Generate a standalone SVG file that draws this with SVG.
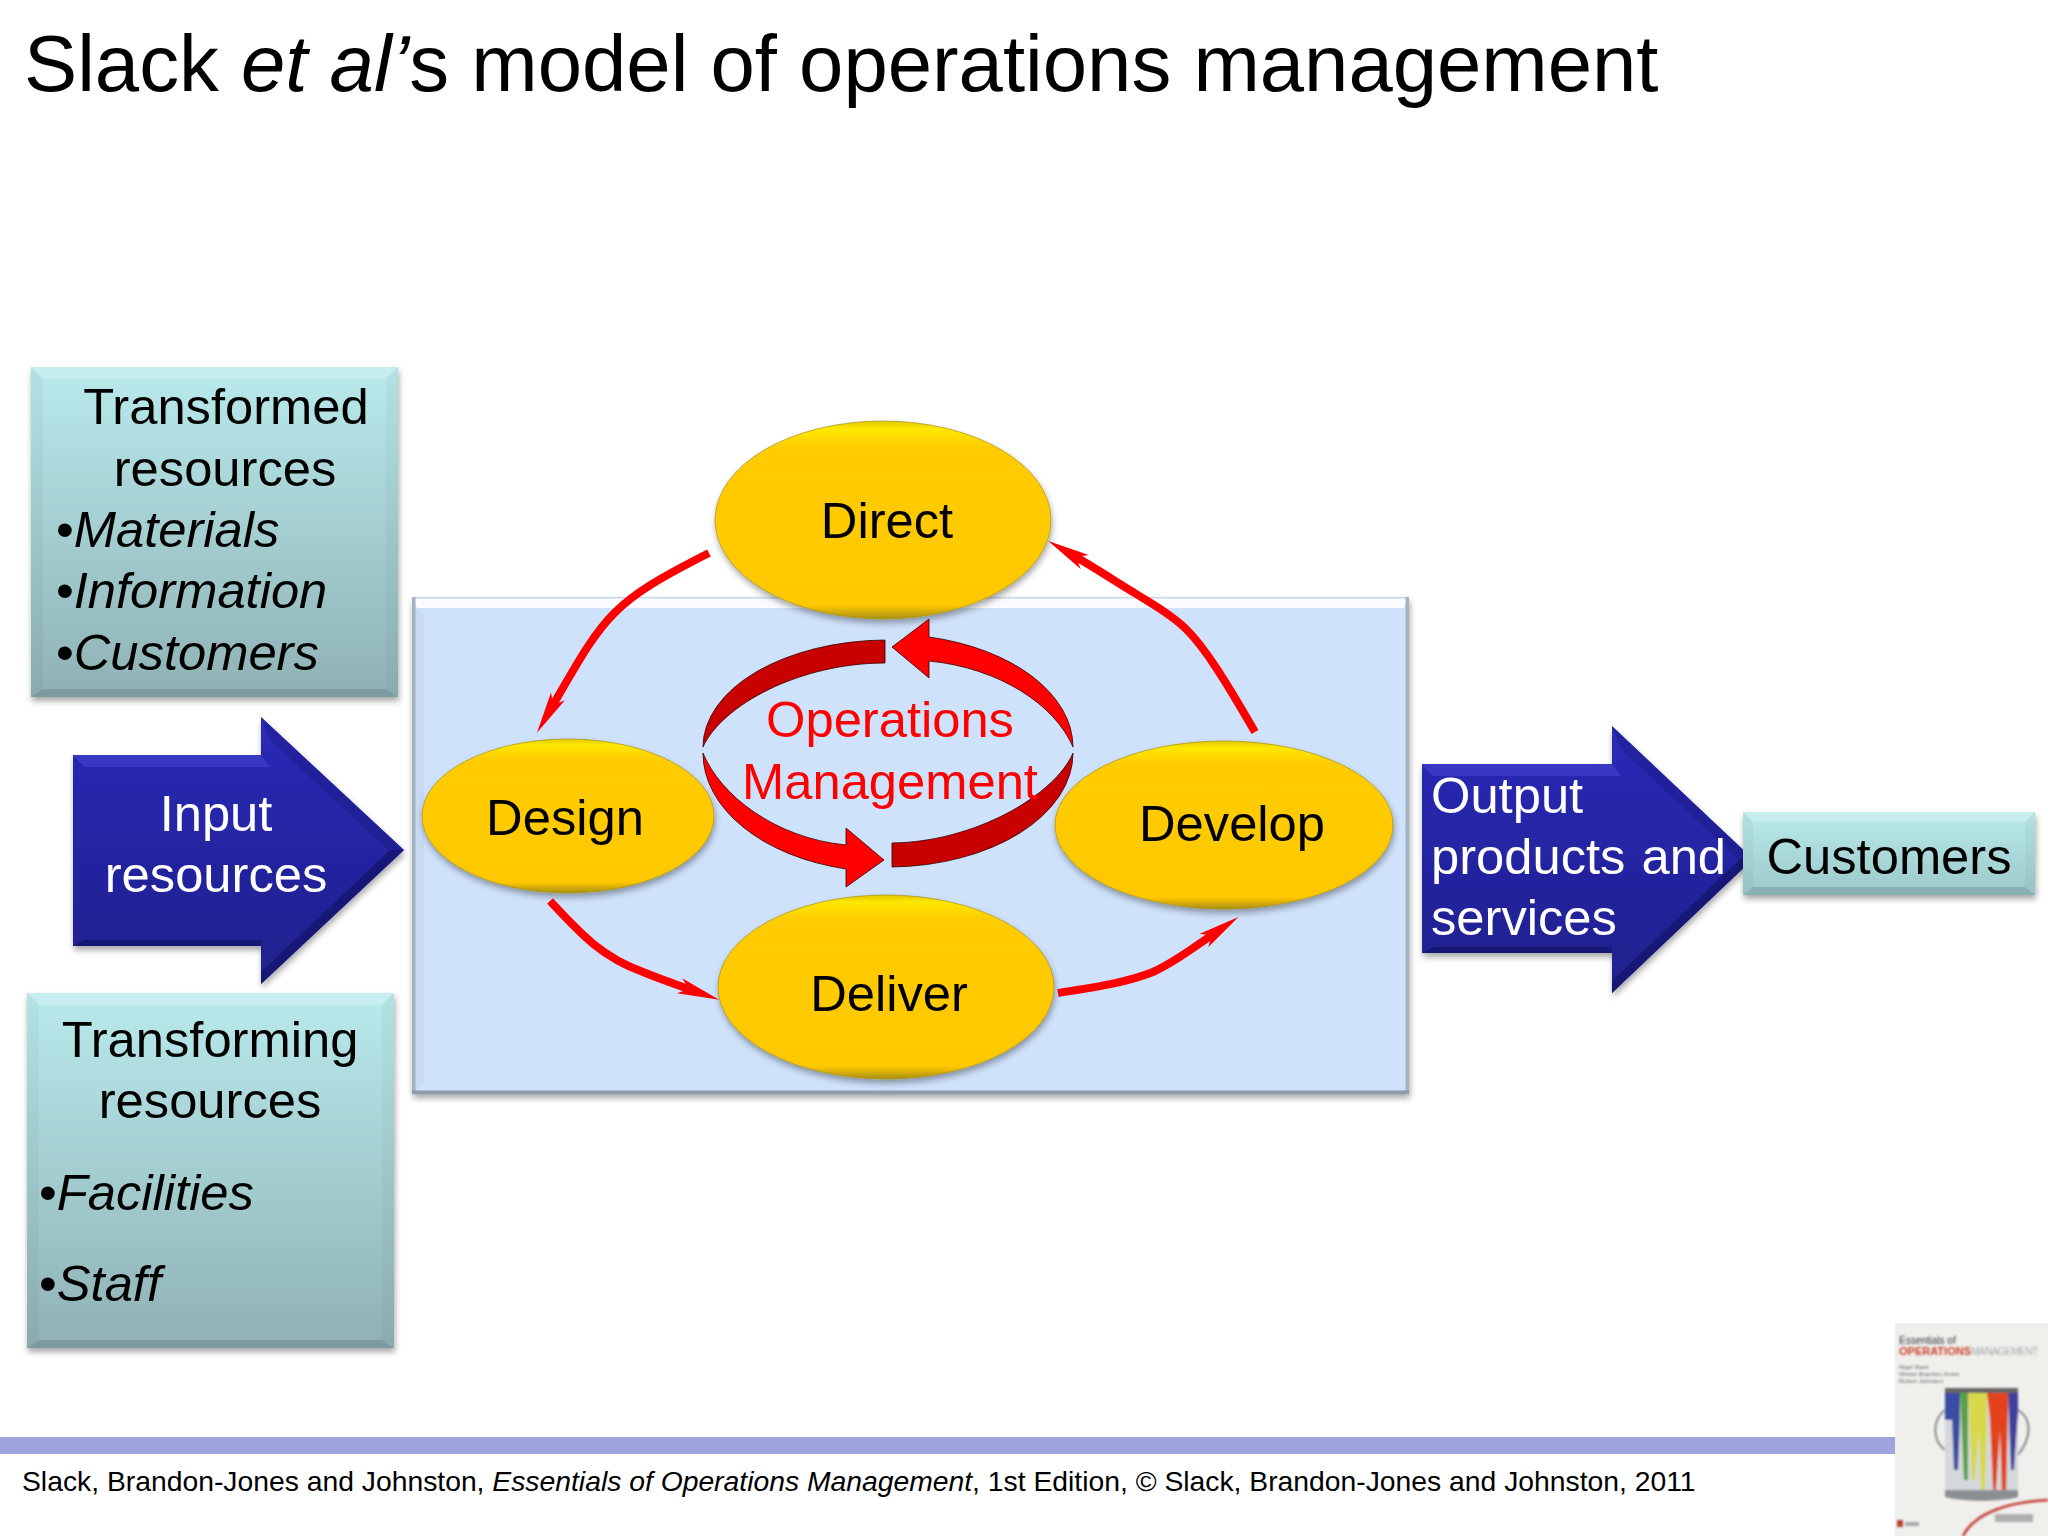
<svg xmlns="http://www.w3.org/2000/svg" width="2048" height="1536" viewBox="0 0 2048 1536">
<style>
text{font-family:"Liberation Sans",Arial,sans-serif;font-size:50.700px;fill:#000}
.w{fill:#fff}.m{text-anchor:middle}.i{font-style:italic}.r{fill:#f00}
.hi{fill:#fff;opacity:.22}.lo{fill:#000;opacity:.12}.side{fill:#000;opacity:.03}
.ell{filter:url(#sh);stroke:#a89012;stroke-width:1;stroke-opacity:.7}
.con{fill:none;stroke:#f00;stroke-width:8;marker-end:url(#ah)}
.ringD{fill:#c80000;stroke:#300;stroke-width:.8}
.ringL{fill:#f00;stroke:#300;stroke-width:.8}
</style>
<defs>
<linearGradient id="teal" x1="0" y1="0" x2="0" y2="1"><stop offset="0" stop-color="#b9eaec"/><stop offset="1" stop-color="#8fb1b4"/></linearGradient>
<linearGradient id="teal2" x1="0" y1="0" x2="0" y2="1"><stop offset="0" stop-color="#b9eaea"/><stop offset="1" stop-color="#9cc8ca"/></linearGradient>
<linearGradient id="navy" x1="0" y1="0" x2="0" y2="1"><stop offset="0" stop-color="#2a2ab8"/><stop offset="1" stop-color="#1f1f8c"/></linearGradient>
<linearGradient id="gold" x1="0" y1="0" x2="0" y2="1"><stop offset="0" stop-color="#e0c800"/><stop offset=".04" stop-color="#ffe800"/><stop offset=".13" stop-color="#ffcc05"/><stop offset=".93" stop-color="#ffc800"/><stop offset="1" stop-color="#a89012"/></linearGradient>
<filter id="sh" x="-5%" y="-5%" width="112%" height="115%"><feDropShadow dx="1" dy="4" stdDeviation="3" flood-color="#000" flood-opacity=".35"/></filter>
<filter id="soft" x="-5%" y="-5%" width="110%" height="110%"><feGaussianBlur stdDeviation=".8"/></filter>
<marker id="ah" markerUnits="userSpaceOnUse" markerWidth="50" markerHeight="24" viewBox="0 0 46 24" refX="10" refY="12" orient="auto"><path d="M42 12L0 4L10 12L0 20Z" fill="#f00"/></marker>
</defs>

<text id="title" x="24" y="91" style="font-size:79.700px">Slack <tspan class="i">et al’</tspan>s model of operations management</text>

<g id="operations-box">
<rect x="412" y="597" width="997" height="497" fill="#cfe2fb" filter="url(#sh)"/>
<path d="M412 597H1409L1404 608H417Z" fill="#fff" opacity=".9"/>
<path d="M412 597H1409V598.500H412Z" fill="#c8d8e8"/>
<path d="M412 597H415.500V1094H412Z" fill="#a4b2c4"/>
<path d="M1405.500 597H1409V1094H1405.500Z" fill="#a4b2c4"/>
<path d="M412 1090.500H1409V1094H412Z" fill="#8d9bab"/>
<path d="M415.500 608L424 616V1082L415.500 1090.500Z" fill="#000" opacity=".03"/>
</g>

<g id="transformed-resources">
<rect x="31" y="367" width="367" height="330" fill="url(#teal)" filter="url(#sh)"/>
<path class="hi" d="M31 367H398L386 379H43Z"/><path class="lo" d="M31 697H398L386 689H43Z"/><path class="side" d="M31 367L43 379V689L31 697Z"/><path class="side" d="M398 367L386 379V689L398 697Z"/>
<text class="m" x="226" y="424">Transformed</text>
<text class="m" x="225" y="486">resources</text>
<text x="56" y="547">•<tspan class="i">Materials</tspan></text>
<text x="56" y="608">•<tspan class="i">Information</tspan></text>
<text x="56" y="670">•<tspan class="i">Customers</tspan></text>
</g>

<g id="input-resources">
<path d="M73 755H261V717L404 850L261 984V946H73Z" fill="url(#navy)" filter="url(#sh)"/>
<path d="M73 755H261L270 767H84Z" fill="#4545d0" opacity=".6"/>
<path d="M261 717L404 850L388 850L270 740Z" fill="#1a1a80" opacity=".4"/>
<path d="M404 850L261 984V972L390 850Z" fill="#15156e" opacity=".8"/>
<path d="M73 946H261V940H84Z" fill="#15156e" opacity=".8"/>
<text class="m w" x="216" y="831">Input</text>
<text class="m w" x="216" y="892">resources</text>
</g>

<g id="transforming-resources">
<rect x="27" y="993" width="367" height="355" fill="url(#teal)" filter="url(#sh)"/>
<path class="hi" d="M27 993H394L382 1005H39Z"/><path class="lo" d="M27 1348H394L382 1340H39Z"/><path class="side" d="M27 993L39 1005V1340L27 1348Z"/><path class="side" d="M394 993L382 1005V1340L394 1348Z"/>
<text class="m" x="210" y="1057">Transforming</text>
<text class="m" x="210" y="1118">resources</text>
<text x="39" y="1210">•<tspan class="i">Facilities</tspan></text>
<text x="39" y="1301">•<tspan class="i">Staff</tspan></text>
</g>

<g id="connectors">
<path class="con" d="M709 553C610 603 605 615 553 705"/>
<path class="con" d="M1255 732C1225 680 1205 648 1187 630C1170 613 1150 603 1133 592C1115 581 1095 568 1076 557"/>
<path class="con" d="M550 901C580 933 600 956 643 972C660 979 672 983 689 989"/>
<path class="con" d="M1058 993C1095 987 1125 983 1153 972C1175 962 1190 950 1212 935"/>
</g>

<g id="direct"><ellipse class="ell" cx="883" cy="520" rx="168" ry="99" fill="url(#gold)"/><text class="m" x="887" y="538">Direct</text></g>
<g id="design"><ellipse class="ell" cx="568" cy="816" rx="146" ry="77" fill="url(#gold)"/><text class="m" x="565" y="835">Design</text></g>
<g id="develop"><ellipse class="ell" cx="1224" cy="825" rx="169" ry="84" fill="url(#gold)"/><text class="m" x="1232" y="841">Develop</text></g>
<g id="deliver"><ellipse class="ell" cx="886" cy="987" rx="168" ry="92" fill="url(#gold)"/><text class="m" x="889" y="1011">Deliver</text></g>

<g id="operations-management">
<path class="ringD" d="M885 640A185 107 0 0 0 703 747C722 705 800 663 885 663Z"/>
<path class="ringL" d="M892 647L929 619V637A185 113 0 0 1 1073 747C1055 705 1000 668 929 661V678Z"/>
<path class="ringL" d="M703 753A185 119 0 0 0 846 869V887L884 860L846 828V845C775 838 720 795 703 753Z"/>
<path class="ringD" d="M892 843C975 842 1055 795 1073 753A185 114 0 0 1 892 867Z"/>
<text class="m r" x="890" y="737">Operations</text>
<text class="m r" x="890" y="799">Management</text>
</g>

<g id="output-products">
<path d="M1422 764H1612V726L1753 859L1612 993V953H1422Z" fill="url(#navy)" filter="url(#sh)"/>
<path d="M1422 764H1612L1621 776H1433Z" fill="#4545d0" opacity=".6"/>
<path d="M1612 726L1753 859L1738 859L1621 749Z" fill="#1a1a80" opacity=".4"/>
<path d="M1753 859L1612 993V981L1740 859Z" fill="#15156e" opacity=".8"/>
<path d="M1422 953H1612V947H1433Z" fill="#15156e" opacity=".8"/>
<text class="w" x="1431" y="813">Output</text>
<text class="w" x="1431" y="874" word-spacing="2">products and</text>
<text class="w" x="1431" y="935">services</text>
</g>

<g id="customers">
<rect x="1743" y="812" width="292" height="83" fill="url(#teal2)" filter="url(#sh)"/>
<path class="hi" d="M1743 812H2035L2025 822H1753Z"/><path class="lo" d="M1743 895H2035L2025 887H1753Z"/><path class="side" d="M1743 812L1753 822V887L1743 895Z"/><path class="side" d="M2035 812L2025 822V887L2035 895Z"/>
<text class="m" x="1889" y="874">Customers</text>
</g>

<rect id="footer-bar" x="0" y="1437" width="1895" height="17" fill="#9fa3de"/>
<text id="footer" x="22" y="1491" style="font-size:28.300px">Slack, Brandon-Jones and Johnston, <tspan class="i">Essentials of Operations Management</tspan>, 1st Edition, © Slack, Brandon-Jones and Johnston, 2011</text>

<g id="book-cover">
<rect x="1895" y="1323" width="153" height="213" fill="#efefec"/>
<g filter="url(#soft)">
<text x="1899" y="1344" style="font-size:10px;fill:#333">Essentials of</text>
<text x="1899" y="1355" style="font-size:11px;fill:#c8402a;font-weight:bold" textLength="72">OPERATIONS</text>
<text x="1971" y="1355" style="font-size:10px;fill:#aaa" textLength="67">MANAGEMENT</text>
<text x="1899" y="1369" style="font-size:6px;fill:#666">Nigel Slack</text>
<text x="1899" y="1376" style="font-size:6px;fill:#666">Alistair Brandon-Jones</text>
<text x="1899" y="1383" style="font-size:6px;fill:#666">Robert Johnston</text>
<path d="M1945 1410C1932 1420 1932 1440 1945 1450M2018 1410C2034 1420 2030 1440 2018 1455" fill="none" stroke="#888" stroke-width="2"/>
<rect x="1945" y="1388" width="73" height="109" fill="#d4d8da"/>
<rect x="1945" y="1388" width="73" height="5" fill="#666"/>
<path d="M1945 1393H1960V1420L1958 1470H1954L1952 1420H1945Z" fill="#3a4ea0"/>
<path d="M1960 1393H1968V1480H1964Z" fill="#5aa04a"/>
<path d="M1968 1393H1987V1425L1985 1490H1981L1979 1430L1975 1480H1972Z" fill="#d8d84c"/>
<path d="M1987 1393H2008V1410L2006 1495H2002L2000 1430L1996 1490H1993L1990 1420Z" fill="#e2431e"/>
<path d="M2008 1393H2018V1410L2014 1470H2011Z" fill="#3f3f9a"/>
<path d="M1945 1497C1965 1502 2000 1502 2018 1497V1490H1945Z" fill="#8a8f92"/>
<path d="M1963 1536C1975 1512 2010 1502 2048 1500" fill="none" stroke="#c43a30" stroke-width="2.500"/>
<rect x="1897" y="1520" width="6" height="7" fill="#b84030"/>
<rect x="1905" y="1522" width="14" height="4" fill="#aaa"/>
<rect x="1995" y="1514" width="38" height="8" fill="#b0b0b0"/>
</g>
</g>
</svg>
